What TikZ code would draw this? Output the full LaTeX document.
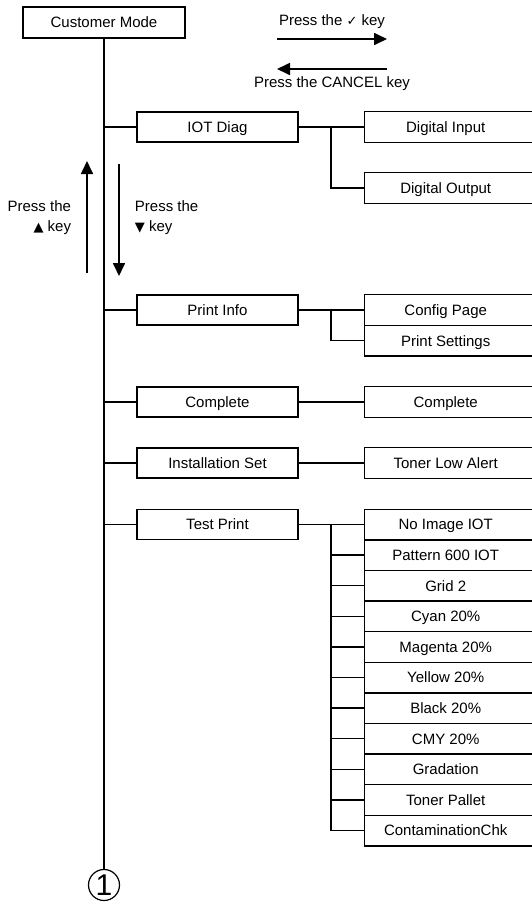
\documentclass[tikz,border=0pt]{standalone}
\usepackage{fontspec}
\setmainfont{Liberation Sans}
\newfontfamily\symfont{DejaVu Sans}
\usetikzlibrary{arrows.meta}

\tikzset{
    menubox/.style={draw, line width=1.4pt, minimum width=161pt, minimum height=30pt, inner sep=0pt, text height=10.8pt, text depth=0pt},
    itembox/.style={draw, line width=1.4pt, minimum width=170pt, minimum height=30.6pt, inner sep=0pt, text height=10.8pt, text depth=0pt, anchor=west},
    keyarrow/.style={line width=1.7pt, -{Triangle[length=13pt,width=12pt]}},
}

\begin{document}
\begin{tikzpicture}[x=1pt, y=-1pt, line width=1.3pt, font=\fontsize{15}{20}\selectfont]
    \useasboundingbox (0,0) rectangle (531,905);
    % top level
    \node[menubox, minimum width=162pt, minimum height=31pt] (cm) at (104,22.5) {Customer Mode};
    \node[draw, circle, line width=1.2pt, minimum size=31pt, inner sep=0pt, font=\fontsize{30}{30}\selectfont] (one) at (104,885) {1};
    \draw (cm.south) -- (one.north);

    % key legend
    \coordinate (ra) at (277,39);
    \coordinate (rb) at (387,39);
    \coordinate (la) at (387,69);
    \coordinate (lb) at (277,69);
    \draw[keyarrow] (ra) -- (rb) node[midway, above=6pt]{Press the {\symfont\fontsize{13}{13}\selectfont ✓} key};
    \draw[keyarrow] (la) -- (lb) node[midway, below=3pt]{Press the CANCEL key};
    \coordinate (ua) at (87,273);
    \coordinate (ub) at (87,161);
    \coordinate (da) at (119,164);
    \coordinate (db) at (119,276);
    \draw[keyarrow] (ua) -- (ub);
    \draw[keyarrow] (da) -- (db);
    \node[anchor=east, align=right] (upkey) at (75,218) {Press the\\{\symfont\fontsize{13}{13}\selectfont ▲} key};
    \node[anchor=west, align=left] (downkey) at (131,218) {Press the\\{\symfont\fontsize{13}{13}\selectfont ▼} key};

    % first level
    \node[menubox] (iot) at (217.5,127) {IOT Diag};
    \node[menubox] (pinfo) at (217.5,310) {Print Info};
    \node[menubox] (comp) at (217.5,402) {Complete};
    \node[menubox] (inst) at (217.5,463) {Installation Set};
    \node[menubox] (tprint) at (217.5,524.5) {Test Print};
    \draw (cm.south |- iot.west) -- (iot.west);
    \draw (cm.south |- pinfo.west) -- (pinfo.west);
    \draw (cm.south |- comp.west) -- (comp.west);
    \draw (cm.south |- inst.west) -- (inst.west);
    \draw (cm.south |- tprint.west) -- (tprint.west);

    % second level
    \coordinate (jx) at (331,0);
    \node[itembox] (din) at (364,127) {\hspace*{-8pt}Digital Input};
    \node[itembox] (dout) at (364,188) {\hspace*{-8pt}Digital Output};
    \node[itembox] (cfg) at (364,310) {\hspace*{-8pt}Config Page};
    \node[itembox] (pset) at (364,340.6) {\hspace*{-8pt}Print Settings};
    \node[itembox] (comp2) at (364,402) {\hspace*{-8pt}Complete};
    \node[itembox] (toner) at (364,463) {\hspace*{-8pt}Toner Low Alert};
    \node[itembox] (tp1) at (364,524.5) {\hspace*{-8pt}No Image IOT};
    \node[itembox] (tp2) at (364,555.1) {\hspace*{-8pt}Pattern 600 IOT};
    \node[itembox] (tp3) at (364,585.7) {\hspace*{-8pt}Grid 2};
    \node[itembox] (tp4) at (364,616.3) {\hspace*{-8pt}Cyan 20\%};
    \node[itembox] (tp5) at (364,646.9) {\hspace*{-8pt}Magenta 20\%};
    \node[itembox] (tp6) at (364,677.5) {\hspace*{-8pt}Yellow 20\%};
    \node[itembox] (tp7) at (364,708.1) {\hspace*{-8pt}Black 20\%};
    \node[itembox] (tp8) at (364,738.7) {\hspace*{-8pt}CMY 20\%};
    \node[itembox] (tp9) at (364,769.3) {\hspace*{-8pt}Gradation};
    \node[itembox] (tp10) at (364,799.9) {\hspace*{-8pt}Toner Pallet};
    \node[itembox] (tp11) at (364,830.5) {\hspace*{-8pt}ContaminationChk};

    \draw (iot.east) -- (din.west);
    \draw (jx |- iot.east) |- (dout.west);
    \draw (pinfo.east) -- (cfg.west);
    \draw (jx |- pinfo.east) |- (pset.west);
    \draw (comp.east) -- (comp2.west);
    \draw (inst.east) -- (toner.west);
    \draw (tprint.east) -- (tp1.west);
    \draw (jx |- tprint.east) |- (tp11.west);
    \draw (jx |- tp2.west) -- (tp2.west);
    \draw (jx |- tp3.west) -- (tp3.west);
    \draw (jx |- tp4.west) -- (tp4.west);
    \draw (jx |- tp5.west) -- (tp5.west);
    \draw (jx |- tp6.west) -- (tp6.west);
    \draw (jx |- tp7.west) -- (tp7.west);
    \draw (jx |- tp8.west) -- (tp8.west);
    \draw (jx |- tp9.west) -- (tp9.west);
    \draw (jx |- tp10.west) -- (tp10.west);
\end{tikzpicture}
\end{document}
